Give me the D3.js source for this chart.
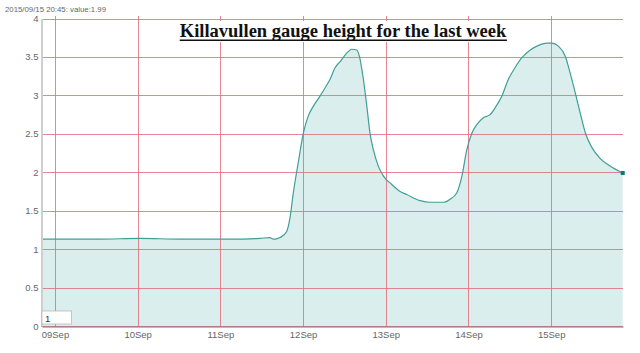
<!DOCTYPE html>
<html><head><meta charset="utf-8">
<script src="https://cdnjs.cloudflare.com/ajax/libs/d3/7.8.5/d3.min.js"></script>
<style>body{margin:0;background:#fff}svg{display:block}</style>
</head><body><svg id="c" width="640" height="353"></svg>
<script>
const times = ["2015-09-08T20:15","2015-09-09T13:00","2015-09-10T00:40","2015-09-10T12:20","2015-09-11T02:50","2015-09-11T11:30","2015-09-11T14:25","2015-09-11T15:20","2015-09-11T15:50","2015-09-11T17:20","2015-09-11T19:15","2015-09-11T20:15","2015-09-11T21:10","2015-09-11T22:35","2015-09-12T00:05","2015-09-12T01:30","2015-09-12T03:00","2015-09-12T04:55","2015-09-12T06:25","2015-09-12T07:50","2015-09-12T09:17","2015-09-12T10:45","2015-09-12T12:40","2015-09-12T14:07","2015-09-12T15:35","2015-09-12T16:20","2015-09-12T17:30","2015-09-12T18:30","2015-09-12T19:25","2015-09-12T20:25","2015-09-12T21:50","2015-09-12T23:20","2015-09-13T01:45","2015-09-13T04:10","2015-09-13T06:05","2015-09-13T10:00","2015-09-13T12:55","2015-09-13T16:45","2015-09-13T18:40","2015-09-13T20:35","2015-09-13T22:05","2015-09-13T23:30","2015-09-14T01:00","2015-09-14T02:25","2015-09-14T04:20","2015-09-14T06:17","2015-09-14T07:45","2015-09-14T09:40","2015-09-14T11:35","2015-09-14T13:30","2015-09-14T15:30","2015-09-14T17:55","2015-09-14T20:20","2015-09-14T22:45","2015-09-15T00:10","2015-09-15T02:05","2015-09-15T04:05","2015-09-15T05:30","2015-09-15T07:00","2015-09-15T08:25","2015-09-15T09:55","2015-09-15T11:50","2015-09-15T14:10","2015-09-15T17:05","2015-09-15T20:45"];
const values = [1.13,1.13,1.14,1.13,1.13,1.14,1.15,1.13,1.13,1.15,1.23,1.42,1.73,2.12,2.51,2.73,2.86,2.99,3.10,3.21,3.36,3.44,3.55,3.60,3.59,3.51,3.21,2.86,2.51,2.29,2.08,1.95,1.84,1.75,1.71,1.63,1.61,1.61,1.65,1.73,1.95,2.29,2.51,2.62,2.71,2.75,2.84,2.99,3.21,3.36,3.49,3.59,3.65,3.68,3.68,3.64,3.51,3.29,3.03,2.77,2.51,2.32,2.18,2.08,1.99];
const yTicks = [0,0.5,1,1.5,2,2.5,3,3.5,4];
const xTickDays = ["2015-09-09","2015-09-10","2015-09-11","2015-09-12","2015-09-13","2015-09-14","2015-09-15"];
const titleText = "Killavullen gauge height for the last week";
const headerStamp = "2015/09/15 20:45: ";
const headerValue = "1.99";

const parse = d3.timeParse("%Y-%m-%dT%H:%M");
const parseDay = d3.timeParse("%Y-%m-%d");
const data = times.map((t,i)=>({t:parse(t), v:values[i]}));

const svg = d3.select("#c");
const L=42, R=623, T=18.5, B=326;
const x = d3.scaleTime().domain([parse("2015-09-08T20:15"), parse("2015-09-15T20:50")]).range([L,R]);
const y = d3.scaleLinear().domain([0,4]).range([B,T]);

// area fill
svg.append("path").datum(data)
  .attr("fill","#dbeeee")
  .attr("d", d3.area().x(d=>x(d.t)).y0(y(0)).y1(d=>y(d.v)).curve(d3.curveMonotoneX));

// grid
const gc = "#e5707f";
svg.append("g").selectAll("line").data(yTicks).join("line")
  .attr("x1",L-1).attr("x2",R).attr("y1",d=>Math.round(y(d))+0.5).attr("y2",d=>Math.round(y(d))+0.5)
  .attr("stroke",gc).attr("stroke-width",1).attr("opacity",0.85);
svg.append("g").selectAll("line").data(xTickDays).join("line")
  .attr("x1",d=>Math.round(x(parseDay(d)))+0.5).attr("x2",d=>Math.round(x(parseDay(d)))+0.5)
  .attr("y1",16).attr("y2",B)
  .attr("stroke",gc).attr("stroke-width",1).attr("opacity",0.85);

// line
svg.append("path").datum(data)
  .attr("fill","none").attr("stroke","#3f9e97").attr("stroke-width",1.2)
  .attr("d", d3.line().x(d=>x(d.t)).y(d=>y(d.v)).curve(d3.curveMonotoneX));

// end marker
const last = data[data.length-1];
svg.append("rect").attr("x",x(last.t)-2).attr("y",y(last.v)-2).attr("width",4).attr("height",4).attr("fill","#0b7c72");

// y axis
const yAxis = d3.axisLeft(y).tickValues(yTicks).tickSize(0).tickPadding(3).tickFormat(d3.format("~g"));
const gy = svg.append("g").attr("transform",`translate(${L-0.5},0)`).call(yAxis);
gy.select(".domain").attr("stroke","#cfcfcf").attr("stroke-width",2);
gy.selectAll("text").attr("font-family","Liberation Sans, Arial, sans-serif").attr("font-size",9.5).attr("fill","#666");

// x axis
const xAxis = d3.axisBottom(x).tickValues(xTickDays.map(parseDay)).tickSize(0).tickPadding(5).tickFormat(d3.timeFormat("%d%b"));
const gx = svg.append("g").attr("transform",`translate(0,${B+0.5})`).call(xAxis);
gx.select(".domain").attr("stroke","#777").attr("stroke-width",1);
gx.selectAll("text").attr("font-family","Liberation Sans, Arial, sans-serif").attr("font-size",9.5).attr("fill","#666");

// range input box
svg.append("rect").attr("x",42).attr("y",311).attr("width",29.5).attr("height",13).attr("fill","#fff").attr("stroke","#b8b8b8").attr("stroke-width",0.8);
svg.append("text").attr("x",45).attr("y",321.5).attr("font-family","Liberation Sans, Arial, sans-serif").attr("font-size",9.5).attr("fill","#333").text("1");

// header
const ht = svg.append("text").attr("x",5).attr("y",12).attr("font-family","Liberation Sans, Arial, sans-serif").attr("font-size",7.8).attr("fill","#666");
ht.append("tspan").text(headerStamp);
ht.append("tspan").attr("fill","#1b7f84").text("value");
ht.append("tspan").text(":"+headerValue);

// title
svg.append("rect").attr("x",174).attr("y",21).attr("width",340).attr("height",21).attr("fill","#fff");
const tt = svg.append("text").attr("x",343).attr("y",37).attr("text-anchor","middle")
  .attr("font-family","Liberation Serif, Times New Roman, serif").attr("font-weight","bold").attr("font-size",18.5).attr("fill","#111").text(titleText);
const bb = tt.node().getBBox();
svg.append("line").attr("x1",bb.x).attr("x2",bb.x+bb.width).attr("y1",40.2).attr("y2",40.2).attr("stroke","#111").attr("stroke-width",1.4);
</script></body></html>
